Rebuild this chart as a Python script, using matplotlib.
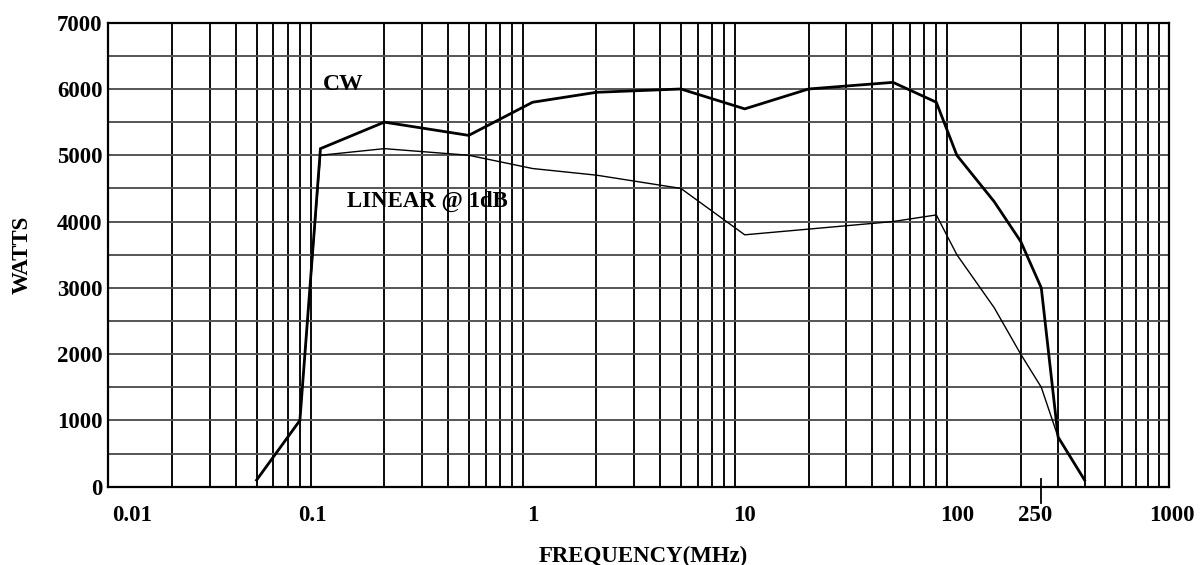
import numpy as np
import matplotlib
matplotlib.use("Agg")
import matplotlib.pyplot as plt
from matplotlib.ticker import LogLocator, FixedLocator, NullFormatter
import matplotlib.transforms as mtransforms

# ---- data ----
cw_freq = [0.05, 0.08, 0.1, 0.2, 0.5, 1, 2, 5, 10, 20, 50, 80, 100, 150, 200, 250, 300, 400]
cw_watts = [100, 1000, 5100, 5500, 5300, 5800, 5950, 6000, 5700, 6000, 6100, 5800, 5000, 4300, 3700, 3000, 750, 100]

lin_freq = [0.05, 0.08, 0.1, 0.2, 0.5, 1, 2, 5, 10, 50, 80, 100, 150, 200, 250, 300, 400]
lin_watts = [100, 1000, 5000, 5100, 5000, 4800, 4700, 4500, 3800, 4000, 4100, 3500, 2700, 2000, 1500, 750, 100]

x_ticks = [0.01, 0.1, 1, 10, 100, 250, 1000]
x_tick_labels = ["0.01", "0.1", "1", "10", "100", "250", "1000"]
y_ticks = [0, 1000, 2000, 3000, 4000, 5000, 6000, 7000]
y_tick_labels = ["0", "1000", "2000", "3000", "4000", "5000", "6000", "7000"]

plt.rcParams['font.family'] = ['Liberation Serif', 'DejaVu Serif']
plt.rcParams['font.weight'] = 'bold'

W, H = 1202, 565
fig = plt.figure(figsize=(W / 100, H / 100), dpi=100)
L, R, T, B = 108.3, 1169, 22.7, 486.7
ax = fig.add_axes([L / W, 1 - B / H, (R - L) / W, (B - T) / H])

ax.set_xscale('log')
ax.set_xlim(0.01, 1000)
ax.set_ylim(0, 7000)

# grid
ax.xaxis.set_minor_locator(LogLocator(base=10, subs=np.arange(1, 10), numticks=100))
ax.xaxis.set_minor_formatter(NullFormatter())
ax.yaxis.set_minor_locator(FixedLocator(np.arange(500, 7000, 1000)))
ax.grid(False)
ax.grid(axis='x', which='minor', color='black', lw=1.35)
ax.grid(axis='y', which='both', color='#555555', lw=1.4)
ax.set_axisbelow(True)

ax.set_xticks(x_ticks)
ax.set_xticklabels(x_tick_labels)
ax.set_yticks(y_ticks)
ax.set_yticklabels(y_tick_labels)
ax.tick_params(which='both', length=0)
ax.tick_params(axis='x', pad=13, labelsize=16.5)
ax.tick_params(axis='y', pad=4, labelsize=16.5)
for lab in ax.get_xticklabels():
    lab.set_fontweight('bold')
for lab in ax.get_yticklabels():
    lab.set_fontweight('bold')

xlabels = ax.get_xticklabels()
xlabels[0].set_horizontalalignment('left')
# small horizontal nudges (pixels) of tick labels as in the reference
nudges = {0: 4, 1: -8, 5: -6, 6: 3}
for i, dx in nudges.items():
    xlabels[i].set_transform(xlabels[i].get_transform() +
                             mtransforms.ScaledTranslation(dx / 100, 0, fig.dpi_scale_trans))

for s in ax.spines.values():
    s.set_linewidth(1.6)
    s.set_color('black')

# curves
ax.plot(cw_freq, cw_watts, color='black', lw=2.0, solid_joinstyle='miter', zorder=3)
ax.plot(lin_freq, lin_watts, color='black', lw=1.0, zorder=3)

# 250 marker tick crossing the axis
trans = mtransforms.blended_transform_factory(ax.transData, ax.transAxes)
ax.plot([250, 250], [-16 / (B - T), 8 / (B - T)], color='black', lw=1.3,
        transform=trans, clip_on=False, zorder=4)

# annotations
ax.text(0.1024, 5983, 'CW', fontsize=17, fontweight='bold', ha='left', va='baseline', zorder=5)
ax.text(0.133, 4223, 'LINEAR @ 1dB', fontsize=16.5, fontweight='bold', ha='left', va='baseline', zorder=5)

ax.set_xlabel('FREQUENCY(MHz)', fontsize=16.5, fontweight='bold')
ax.xaxis.set_label_coords(0.504, -0.128)
ax.set_ylabel('WATTS', fontsize=16.5, fontweight='bold')
ax.yaxis.set_label_coords(-0.071, 0.5)

fig.savefig('out.png', dpi=100)
